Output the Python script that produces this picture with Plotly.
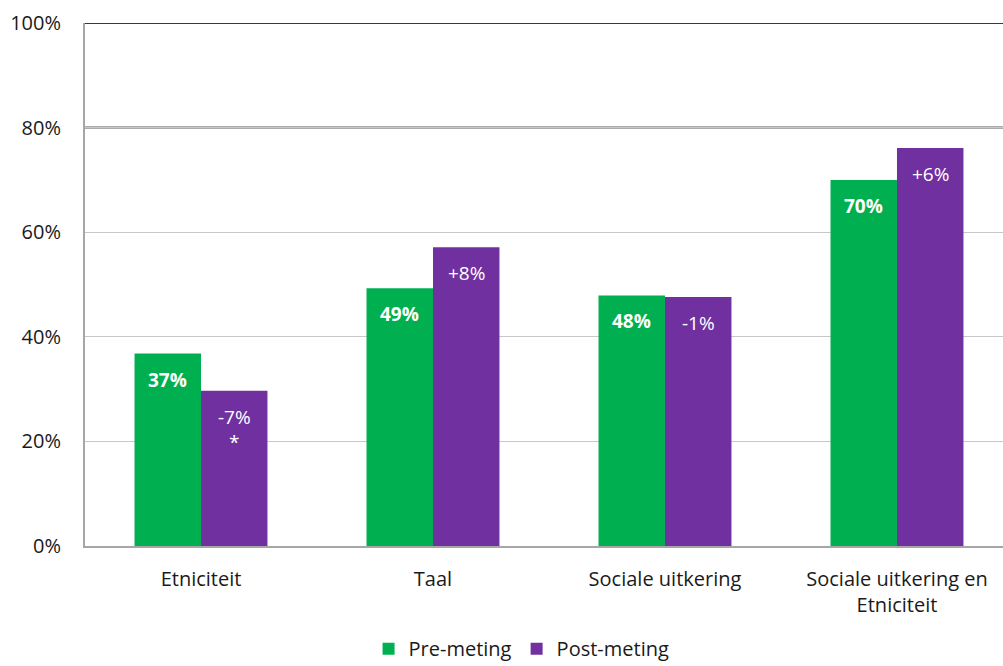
import plotly.graph_objects as go

categories = ["Etniciteit", "Taal", "Sociale uitkering", "Sociale uitkering en<br>Etniciteit"]
pre_values = [36.8, 49.3, 47.9, 70.0]
post_values = [29.7, 57.1, 47.6, 76.1]
pre_labels = ["37%", "49%", "48%", "70%"]
post_labels = ["-7%<br>*", "+8%", "-1%", "+6%"]
tick_vals = [0, 20, 40, 60, 80, 100]
tick_text = ["0%", "20%", "40%", "60%", "80%", "100%"]

GREEN = "#00B050"
PURPLE = "#7030A0"
FONT = "'Open Sans', sans-serif"

fig = go.Figure()
fig.add_trace(go.Bar(x=categories, y=pre_values, name="Pre-meting", marker=dict(color=GREEN, line=dict(width=0))))
fig.add_trace(go.Bar(x=categories, y=post_values, name="Post-meting", marker=dict(color=PURPLE, line=dict(width=0))))

half = 0.1433
anns = []
for i, (pv, pl, qv, ql) in enumerate(zip(pre_values, pre_labels, post_values, post_labels)):
    anns.append(dict(x=i - half, y=pv, xref="x", yref="y", text="<b>" + pl + "</b>", showarrow=False,
                     yanchor="top", yshift=-11, font=dict(color="white", size=19, family=FONT)))
    anns.append(dict(x=i + half, y=qv, xref="x", yref="y", text=ql, showarrow=False,
                     yanchor="top", yshift=-11, font=dict(color="white", size=19, family=FONT)))

fig.update_layout(
    width=1003, height=666,
    margin=dict(l=85, r=0, t=23, b=120),
    paper_bgcolor="white", plot_bgcolor="white",
    barmode="group", bargap=0.427, bargroupgap=0,
    font=dict(family=FONT, size=20, color="#1a1a1a"),
    showlegend=True,
    legend=dict(orientation="h", x=0.52, xanchor="center", xref="container",
                y=0.026, yanchor="middle", yref="container",
                font=dict(size=20, family=FONT), traceorder="normal"),
    annotations=anns,
    xaxis=dict(range=[-0.5, 3.457], showline=True, linecolor="#a6a6a6", linewidth=2,
               ticks="", tickfont=dict(size=20), automargin=False, ticklabelstandoff=14),
    yaxis=dict(range=[0, 100], tickvals=tick_vals, ticktext=tick_text, showgrid=True,
               gridcolor="#c8c8c8", gridwidth=1, showline=True, linecolor="#a6a6a6", linewidth=2,
               ticks="", tickfont=dict(size=20), zeroline=False, automargin=False,
               ticklabelstandoff=18),
)
fig.add_hline(y=100, line=dict(color="#3a3a3a", width=2), layer="below")
fig.add_hline(y=80, line=dict(color="#595959", width=2), layer="below")

fig.write_html("out.html")
